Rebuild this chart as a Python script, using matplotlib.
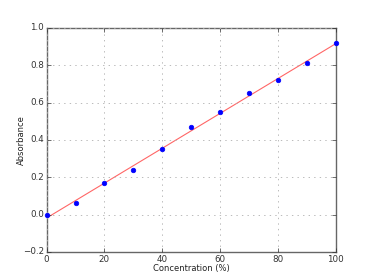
import numpy as np
import matplotlib
matplotlib.use('Agg')
import matplotlib.pyplot as plt

plt.style.use('classic')

concentration = [0, 10, 20, 30, 40, 50, 60, 70, 80, 90, 100]
absorbance = [0.0, 0.06, 0.17, 0.24, 0.35, 0.47, 0.55, 0.65, 0.72, 0.81, 0.92]

# least squares fit line
slope, intercept = np.polyfit(concentration, absorbance, 1)
xfit = np.array([0, 100])
yfit = slope * xfit + intercept

fig = plt.figure(figsize=(3.73, 2.8), dpi=100, facecolor='white')
ax = fig.add_subplot(111)
ax.plot(xfit, yfit, color='red', alpha=0.6, lw=0.8)
ax.plot(concentration, absorbance, 'bo', markersize=3.3, markeredgecolor='blue',
        clip_on=False, zorder=5)

ax.set_xlim(0, 100)
ax.set_ylim(-0.2, 1.0)
ax.set_xlabel('Concentration (%)', fontsize=6, labelpad=0, color='#222222')
ax.set_ylabel('Absorbance', fontsize=6, labelpad=-2, color='#222222')
ax.tick_params(labelsize=6.3, length=3, width=0.5, pad=2, colors='#333333')
ax.grid(True, color='#b0b0b0', ls=':', lw=0.6)
for s in ax.spines.values():
    s.set_color('#666666')
    s.set_linewidth(1.0)

plt.savefig('out.png', dpi=100, facecolor='white')
